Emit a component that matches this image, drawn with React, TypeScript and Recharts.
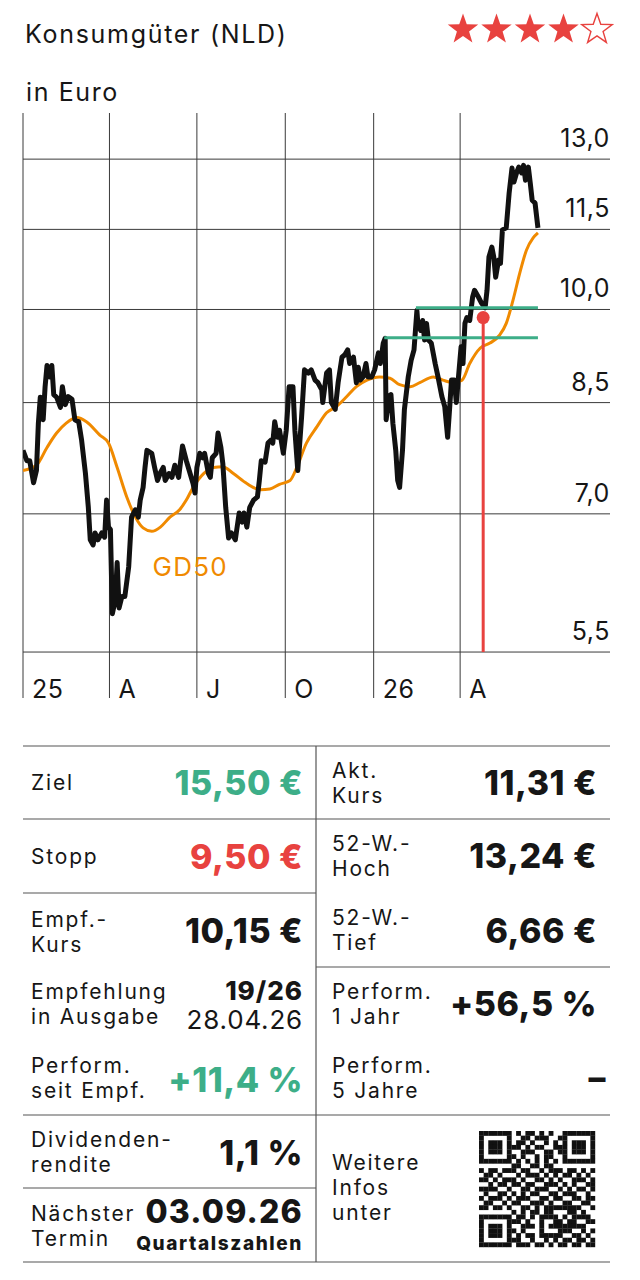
import React from 'react';
import { LineChart, Line, XAxis, YAxis, ReferenceLine, ReferenceDot } from 'recharts';

// Tage seit 01.01.2025, Kurs in Euro
const kurs: [number, number][] = [
  [0, 7.82], [4, 7.68], [7, 7.68], [11, 7.39], [14, 7.55], [16, 8.2], [18, 8.58], [21, 8.25], [23, 8.74],
  [25, 9.07], [28, 8.89], [30, 9.07], [32, 8.62], [35, 8.58], [39, 8.43], [41, 8.74], [44, 8.47], [47, 8.59],
  [51, 8.55], [54, 8.25], [58, 8.22], [61, 7.96], [65, 7.51], [68, 7.08], [70, 6.69], [73, 6.63], [75, 6.77],
  [78, 6.69], [82, 6.77], [85, 6.72], [87, 7.17], [89, 6.84], [91, 6.81], [93, 5.88], [96, 6.02], [98, 6.43],
  [100, 5.94], [103, 6.06], [106, 6.06], [110, 6.38], [113, 6.96], [117, 7.05], [120, 6.96], [122, 7.17],
  [125, 7.33], [127, 7.59], [129, 7.82], [134, 7.78], [137, 7.59], [140, 7.42], [143, 7.52], [146, 7.59],
  [148, 7.42], [152, 7.51], [155, 7.46], [158, 7.62], [162, 7.46], [166, 7.88], [170, 7.68], [173, 7.55],
  [177, 7.38], [179, 7.26], [181, 7.59], [184, 7.78], [187, 7.72], [189, 7.78], [193, 7.51], [195, 7.46],
  [197, 7.72], [201, 7.78], [203, 8.06], [206, 7.86], [208, 7.64], [211, 7.08], [214, 6.71], [217, 6.77],
  [221, 6.69], [222, 6.77], [225, 7.01], [228, 6.9], [230, 7.01], [233, 6.84], [236, 7.08], [240, 7.17],
  [244, 7.21], [246, 7.42], [248, 7.68], [252, 7.66], [255, 7.92], [258, 7.96], [260, 7.92], [262, 8.22],
  [265, 8.0], [267, 8.1], [271, 7.78], [274, 8.1], [277, 8.74], [281, 8.74], [283, 8.1], [286, 7.55],
  [290, 8.29], [293, 9.0], [297, 8.95], [300, 9.0], [304, 8.84], [307, 8.8], [311, 8.69], [312, 8.5],
  [316, 8.95], [319, 9.0], [321, 8.5], [325, 8.4], [328, 8.8], [332, 9.2], [335, 9.24], [338, 9.32],
  [340, 9.1], [344, 9.2], [347, 8.8], [349, 9.04], [351, 8.84], [354, 8.89], [357, 9.1], [359, 8.89],
  [363, 8.89], [366, 9.0], [370, 9.27], [372, 9.1], [375, 9.43], [377, 9.51], [378, 8.25], [381, 8.59],
  [383, 8.62], [385, 8.2], [388, 7.82], [390, 7.42], [392, 7.33], [395, 7.82], [397, 8.4], [401, 8.89],
  [404, 9.15], [407, 9.32], [410, 9.98], [411, 9.76], [414, 9.64], [416, 9.81], [418, 9.48], [420, 9.76],
  [422, 9.48], [425, 9.43], [429, 9.1], [432, 8.89], [436, 8.59], [439, 8.44], [442, 8.0], [444, 8.4],
  [446, 8.84], [449, 8.84], [451, 8.5], [453, 8.84], [456, 9.37], [458, 9.1], [460, 9.76], [462, 9.86],
  [465, 9.81], [468, 10.22], [470, 10.34], [474, 10.22], [477, 10.12], [481, 10.03], [483, 10.34],
  [485, 10.96], [488, 11.15], [490, 10.96], [492, 10.58], [495, 10.9], [497, 10.84], [499, 11.49],
  [503, 11.53], [506, 12.25], [509, 12.8], [511, 12.49], [514, 12.71], [516, 12.82], [519, 12.69],
  [521, 12.86], [523, 12.53], [526, 12.82], [528, 12.47], [530, 12.1], [533, 12.04], [536, 11.53],
];

const gd50: [number, number][] = [
  [0, 7.55], [14, 7.62], [25, 7.86], [35, 8.06], [45, 8.2], [56, 8.28], [66, 8.22], [80, 8.03], [89, 7.92],
  [98, 7.59], [108, 7.21], [117, 6.96], [125, 6.83], [134, 6.79], [143, 6.84], [153, 6.96], [163, 7.05],
  [170, 7.17], [177, 7.33], [188, 7.51], [198, 7.59], [208, 7.6], [219, 7.51], [233, 7.38], [247, 7.3],
  [257, 7.31], [267, 7.37], [278, 7.42], [285, 7.59], [295, 7.92], [306, 8.15], [316, 8.35], [326, 8.44],
  [337, 8.59], [347, 8.74], [358, 8.84], [371, 8.89], [382, 8.87], [392, 8.77], [403, 8.74], [413, 8.8],
  [427, 8.89], [437, 8.84], [448, 8.8], [457, 8.84], [465, 9.1], [476, 9.35], [486, 9.43], [496, 9.56],
  [503, 9.76], [510, 10.16], [517, 10.65], [524, 11.09], [531, 11.33], [536, 11.43],
];

const monthTicks = [0, 90, 181, 273, 365, 455];
const monthLabels = ['25', 'A', 'J', 'O', '26', 'A'];
const priceTicks = [13, 11.5, 10, 8.5, 7, 5.5];
const priceLabels = ['13,0', '11,5', '10,0', '8,5', '7,0', '5,5'];

// Marken: Widerstand, Stopp, Empfehlung
const resistance = { from: 409, to: 536, value: 10.03 };
const stop = { from: 376, to: 536, value: 9.52 };
const entry = { day: 479, value: 9.86 };

const kursData = kurs.map(([day, price]) => ({ day, price }));
const gdData = gd50.map(([day, price]) => ({ day, price }));

const FONT = 'Inter, "Noto Sans", sans-serif';
const INK = '#161616';
const GREEN = '#3dae88';
const RED = '#e8423f';
const ORANGE = '#f08a00';

function PriceLabel(props: any) {
  const { viewBox, text } = props;
  return (
    <text x={viewBox.x + viewBox.width} y={viewBox.y - 12} textAnchor="end" fontSize={25} letterSpacing={0.6} fill={INK}>
      {text}
    </text>
  );
}

function MonthLabel(props: any) {
  const { viewBox, text } = props;
  return (
    <text x={viewBox.x + 9} y={viewBox.y + viewBox.height} fontSize={25} letterSpacing={0.6} fill={INK}>
      {text}
    </text>
  );
}

function Star({ cx, cy, r, filled }: { cx: number; cy: number; r: number; filled: boolean }) {
  const pts: string[] = [];
  for (let i = 0; i < 10; i++) {
    const rad = i % 2 === 0 ? r : r * 0.4;
    const a = -Math.PI / 2 + (i * Math.PI) / 5;
    pts.push(`${cx + rad * Math.cos(a)},${cy + rad * Math.sin(a)}`);
  }
  return filled ? (
    <polygon points={pts.join(' ')} fill={RED} />
  ) : (
    <polygon points={pts.join(' ')} fill="#fff" stroke={RED} strokeWidth={1.4} />
  );
}

const qr = [
  '1111111010110101001111111',
  '1000001001101110011000001',
  '1011101011010010101011101',
  '1011101110101100111011101',
  '1011101001110011011011101',
  '1000001101001011001000001',
  '1111111010101010101111111',
  '0000000110011011000000000',
  '1011011101100101110110101',
  '0110100010111010101101010',
  '1101011101001101010011101',
  '0010110110110011101010011',
  '1111001001101110010101101',
  '0100110101011001101110010',
  '1011101011100110110011011',
  '0110010110011101001100110',
  '1101101001101011111111001',
  '0000000101011011000110100',
  '1111111011010111101011110',
  '1000001110100100110110011',
  '1011101001110101111111100',
  '1011101101000100011100101',
  '1011101010110111110011010',
  '1000001110010010101101101',
  '1111111011101101011011011',
];

function QR({ x, y, size }: { x: number; y: number; size: number }) {
  const m = size / qr.length;
  const cells: React.ReactNode[] = [];
  qr.forEach((row, r) =>
    row.split('').forEach((c, k) => {
      if (c === '1') cells.push(<rect key={`${r}-${k}`} x={x + k * m} y={y + r * m} width={m + 0.2} height={m + 0.2} fill="#111" />);
    })
  );
  return <g>{cells}</g>;
}

function Label2({ x, y, lines, size = 21 }: { x: number; y: number; lines: string[]; size?: number }) {
  return (
    <text x={x} y={y} fontSize={size} fill={INK} fontWeight={400} letterSpacing={1.8}>
      {lines.map((l, i) => (
        <tspan key={i} x={x} dy={i === 0 ? 0 : 25}>
          {l}
        </tspan>
      ))}
    </text>
  );
}

function Value({ x, y, text, color = INK, size = 34, spacing = 0.5 }: { x: number; y: number; text: string; color?: string; size?: number; spacing?: number }) {
  return (
    <text x={x} y={y} fontSize={size} fontWeight={800} fill={color} textAnchor="end" letterSpacing={spacing}>
      {text}
    </text>
  );
}

export default function App() {
  const lineColor = '#555';
  return (
    <div style={{ position: 'absolute', left: 0, top: 0, width: 640, height: 1280, background: '#fff', fontFamily: FONT }}>
      <div style={{ position: 'absolute', left: 0, top: 0 }}>
        <LineChart width={640} height={710} margin={{ top: 113, right: 30, bottom: 12, left: 23 }}>
          <XAxis dataKey="day" type="number" domain={[0, 611]} allowDataOverflow hide />
          <YAxis type="number" scale="log" domain={[5.076, 14.09]} allowDataOverflow hide />
          {monthTicks.map((d, i) => (
            <ReferenceLine key={`m${d}`} x={d} stroke="#3a3a3a" strokeWidth={1} label={<MonthLabel text={monthLabels[i]} />} />
          ))}
          {priceTicks.map((v, i) => (
            <ReferenceLine key={`p${v}`} y={v} stroke="#3a3a3a" strokeWidth={1} label={<PriceLabel text={priceLabels[i]} />} />
          ))}
          <Line data={gdData} dataKey="price" type="monotone" stroke={ORANGE} strokeWidth={3} dot={false} isAnimationActive={false} />
          <Line data={kursData} dataKey="price" type="linear" stroke="#111" strokeWidth={5} strokeLinejoin="round" dot={false} isAnimationActive={false} />
          <ReferenceLine segment={[{ x: resistance.from, y: resistance.value }, { x: resistance.to, y: resistance.value }]} stroke={GREEN} strokeWidth={3} />
          <ReferenceLine segment={[{ x: stop.from, y: stop.value }, { x: stop.to, y: stop.value }]} stroke={GREEN} strokeWidth={3} />
          <ReferenceLine segment={[{ x: entry.day, y: entry.value }, { x: entry.day, y: 5.5 }]} stroke={RED} strokeWidth={3} />
          <ReferenceDot x={entry.day} y={entry.value} r={6.5} fill={RED} stroke="none" />
          <ReferenceDot x={174} y={6.38} r={0} label={{ value: 'GD50', position: 'center', fill: ORANGE, fontSize: 26, fontFamily: FONT, letterSpacing: 1.2 }} />
        </LineChart>
      </div>
      <svg width={640} height={1280} style={{ position: 'absolute', left: 0, top: 0, pointerEvents: 'none' }} fontFamily={FONT}>
        <text x={25} y={43} fontSize={25} fill={INK} letterSpacing={1.7}>Konsumgüter (NLD)</text>
        <text x={26} y={101} fontSize={25} fill={INK} letterSpacing={1.6}>in Euro</text>
        {[0, 1, 2, 3, 4].map((i) => (
          <Star key={i} cx={463 + i * 33.5} cy={29.5} r={16} filled={i < 4} />
        ))}

        {/* Tabelle */}
        <g stroke={lineColor} strokeWidth={1.2}>
          <line x1={23} x2={610} y1={746} y2={746} />
          <line x1={23} x2={316} y1={819} y2={819} />
          <line x1={316} x2={610} y1={819} y2={819} />
          <line x1={23} x2={316} y1={893} y2={893} />
          <line x1={316} x2={610} y1={967} y2={967} />
          <line x1={23} x2={316} y1={1115} y2={1115} />
          <line x1={316} x2={610} y1={1115} y2={1115} />
          <line x1={23} x2={316} y1={1188} y2={1188} />
          <line x1={23} x2={610} y1={1262} y2={1262} />
          <line x1={316} x2={316} y1={746} y2={1262} />
        </g>

        <Label2 x={31} y={790} lines={['Ziel']} />
        <Value x={303} y={795} text="15,50 €" color={GREEN} />
        <Label2 x={31} y={864} lines={['Stopp']} />
        <Value x={303} y={869} text="9,50 €" color={RED} />
        <Label2 x={31} y={927} lines={['Empf.-', 'Kurs']} />
        <Value x={303} y={943} text="10,15 €" />
        <Label2 x={31} y={999} lines={['Empfehlung', 'in Ausgabe']} />
        <Value x={303} y={1000} text="19/26" size={26} spacing={1} />
        <text x={303} y={1029} fontSize={26} fill={INK} textAnchor="end" letterSpacing={0.8}>28.04.26</text>
        <Label2 x={31} y={1073} lines={['Perform.', 'seit Empf.']} />
        <Value x={303} y={1092} text="+11,4 %" color={GREEN} />
        <Label2 x={31} y={1147} lines={['Dividenden-', 'rendite']} />
        <Value x={303} y={1165} text="1,1 %" />
        <Label2 x={31} y={1221} lines={['Nächster', 'Termin']} />
        <Value x={303} y={1223} text="03.09.26" size={32} spacing={1.2} />
        <Value x={303} y={1250} text="Quartalszahlen" size={19} spacing={1.6} />

        <Label2 x={332} y={778} lines={['Akt.', 'Kurs']} />
        <Value x={597} y={795} text="11,31 €" />
        <Label2 x={332} y={851} lines={['52-W.-', 'Hoch']} />
        <Value x={597} y={868} text="13,24 €" />
        <Label2 x={332} y={925} lines={['52-W.-', 'Tief']} />
        <Value x={597} y={943} text="6,66 €" />
        <Label2 x={332} y={999} lines={['Perform.', '1 Jahr']} />
        <Value x={597} y={1016} text="+56,5 %" />
        <Label2 x={332} y={1073} lines={['Perform.', '5 Jahre']} />
        <Value x={606} y={1090} text="–" />
        <Label2 x={332} y={1170} lines={['Weitere', 'Infos', 'unter']} />
        <QR x={479} y={1131} size={116} />
      </svg>
    </div>
  );
}
